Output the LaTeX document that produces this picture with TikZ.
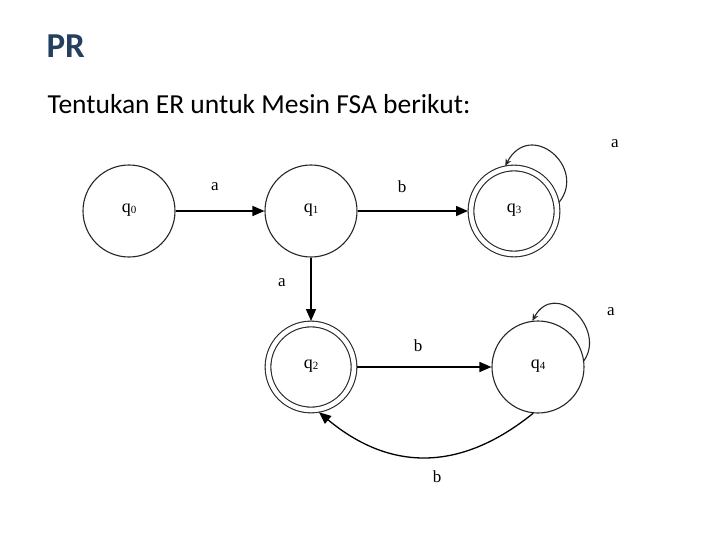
\documentclass[tikz,border=0pt]{standalone}
\usepackage{fontspec}
\setmainfont{Carlito}
\newfontfamily\serifq{Liberation Serif}
\usetikzlibrary{arrows.meta}
\definecolor{titleblue}{HTML}{243F60}
\newcommand{\qlab}[1]{\raisebox{5pt}{q\raisebox{-1pt}{\fontsize{11}{11}\selectfont #1}}}
\tikzset{
  state/.style={circle,draw=black!85,line width=1.1pt,minimum size=92pt,inner sep=0pt,font=\serifq\fontsize{18}{18}\selectfont},
  accept/.style={state,minimum size=86pt,double,double distance=4.6pt,outer sep=3pt},
  edge/.style={line width=1.6pt,-{Triangle[length=12pt,width=10pt]}},
  loopedge/.style={line width=1.1pt,draw=black!85,-{Stealth[length=7pt,width=6pt]}},
  elabel/.style={font=\serifq\fontsize{17}{17}\selectfont},
}
\begin{document}
\begin{tikzpicture}[x=1pt,y=-1pt]
\useasboundingbox (0,0) rectangle (720,540);
\node[anchor=base west,font=\bfseries\fontsize{35}{35}\selectfont,text=titleblue] (title) at (43,58) {PR};
\node[anchor=base west,font=\fontsize{27.5}{27.5}\selectfont] (sub) at (44,114) {Tentukan ER untuk Mesin FSA berikut:};

\node[state] (q0) at (129,211) {\qlab{0}};
\node[state] (q1) at (311,211) {\qlab{1}};
\node[accept] (q3) at (514,211) {\qlab{3}};
\node[accept] (q2) at (311,367) {\qlab{2}};
\node[state] (q4) at (538,367) {\qlab{4}};

\draw[edge] (q0) -- (q1);
\draw[edge] (q1) -- (q3);
\draw[edge] (q1) -- (q2);
\draw[edge] (q2) -- (q4);
\draw[loopedge] (q3.11) .. controls +(28,-35) and +(25,-47) .. (q3.101);
\draw[loopedge] (q4.8) .. controls +(22,-32) and +(23,-42) .. (q4.97);
\draw[edge,line width=1.3pt] (q4.264) .. controls +(-73,59) and +(71,59) .. (q2.-80);

\node[elabel] (la) at (215,187) {a};
\node[elabel] (lb) at (402,187) {b};
\node[elabel] (lc) at (615,144) {a};
\node[elabel] (ld) at (282,283) {a};
\node[elabel] (le) at (418,346) {b};
\node[elabel] (lf) at (611,312) {a};
\node[elabel] (lg) at (437,477) {b};
\end{tikzpicture}
\end{document}
